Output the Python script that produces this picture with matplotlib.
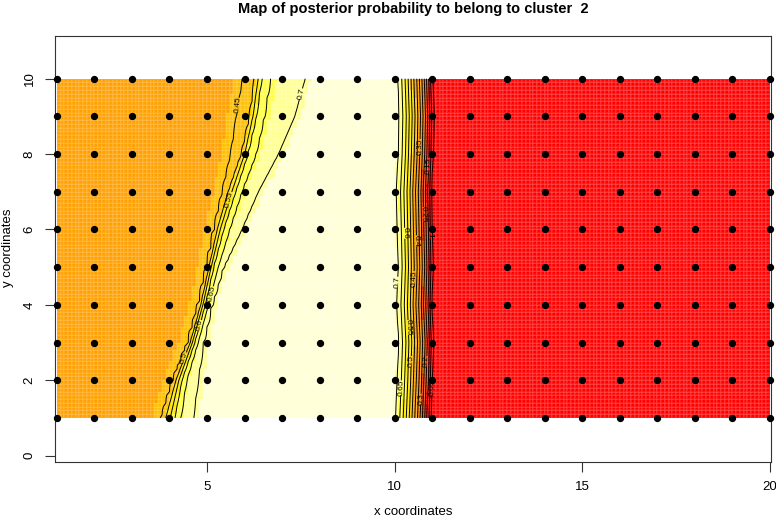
import numpy as np
import matplotlib
matplotlib.use('Agg')
import matplotlib.pyplot as plt
from matplotlib.colors import ListedColormap, BoundaryNorm

plt.rcParams['font.family'] = ['Liberation Sans', 'DejaVu Sans']

# sampled sites
grid_x = np.arange(1, 21)
grid_y = np.arange(1, 11)

# left boundary: x where the posterior crosses each level, rows y = 1..10
left_levels = [0.45, 0.50, 0.55, 0.60, 0.65, 0.70]
x045 = [3.79, 4.10, 4.50, 4.78, 5.00, 5.20, 5.42, 5.64, 5.79, 5.96]
x050 = [3.90, 4.17, 4.55, 4.83, 5.05, 5.27, 5.57, 5.93, 6.15, 6.28]
x055 = [4.02, 4.25, 4.61, 4.89, 5.11, 5.35, 5.66, 6.00, 6.22, 6.36]
x060 = [4.14, 4.33, 4.67, 4.95, 5.17, 5.44, 5.76, 6.08, 6.31, 6.45]
x065 = [4.30, 4.45, 4.76, 5.04, 5.30, 5.60, 5.92, 6.30, 6.52, 6.68]
x070 = [4.63, 4.76, 4.90, 5.12, 5.43, 5.92, 6.36, 6.90, 7.34, 7.62]

# plateau values
left_value = 0.42
middle_value = 0.72

# right boundary profile, plus a small per-row shift (rows y = 1..10)
right_x = [10.00, 10.08, 10.18, 10.27, 10.35, 10.43, 10.50, 10.58,
           10.65, 10.72, 10.78, 10.84, 10.90, 10.95, 11.00, 11.10]
right_v = [0.72, 0.70, 0.65, 0.60, 0.55, 0.50, 0.45, 0.40,
           0.35, 0.30, 0.25, 0.20, 0.15, 0.10, 0.05, 0.00]
right_shift = [-0.04, 0.00, 0.03, -0.01, 0.02, 0.00, -0.02, 0.02, 0.04, 0.01]

contour_levels = np.round(np.arange(0.05, 0.71, 0.05), 2)

bounds = [0, 0.18, 0.28, 0.36, 0.435, 0.5, 0.6, 0.66, 0.71, 1.0]
colors = ['#FF0000', '#FF4000', '#FF8000', '#FFA000', '#FFBF00',
          '#FFE800', '#FFFF40', '#FFFF90', '#FFFFD5']

left_x = np.array([x045, x050, x055, x060, x065, x070]).T


def field(xs, ys):
    z = np.zeros((len(ys), len(xs)))
    for i, y in enumerate(ys):
        cross = [np.interp(y, grid_y, left_x[:, k]) for k in range(len(left_levels))]
        sh = np.interp(y, grid_y, right_shift)
        rx = [v + sh for v in right_x]
        kx = [1.0, cross[0] - 0.5] + cross + [cross[-1] + 0.3] + rx + [20.0]
        kv = [left_value, left_value] + left_levels + [middle_value] + right_v + [0.0]
        z[i] = np.interp(xs, kx, kv)
    return z


xe = np.linspace(1, 20, 191)
ye = np.linspace(1, 10, 91)
xc = (xe[:-1] + xe[1:]) / 2
yc = (ye[:-1] + ye[1:]) / 2

fig = plt.figure(figsize=(7.76, 5.18), dpi=100)
ax = fig.add_axes([0.0709, 0.1081, 0.9227, 0.8229])

cmap = ListedColormap(colors)
norm = BoundaryNorm(bounds, cmap.N)
ax.pcolormesh(xe, ye, field(xc, yc), cmap=cmap, norm=norm, shading='flat',
              edgecolors=(1, 1, 1, 0.1), linewidth=0.25)

cs = ax.contour(xe, ye, field(xe, ye), levels=contour_levels,
                colors='black', linewidths=0.7)
ax.clabel(cs, fmt='%g', fontsize=6, inline=True, inline_spacing=1)

gx, gy = np.meshgrid(grid_x, grid_y)
ax.scatter(gx, gy, s=18, c='black', clip_on=False, zorder=5)

ax.set_xlim(0.95, 20.03)
ax.set_ylim(-0.17, 11.14)
ax.set_xticks([5, 10, 15, 20])
ax.set_yticks([0, 2, 4, 6, 8, 10])
for lab in ax.get_yticklabels():
    lab.set_rotation(90)
    lab.set_va('center')
ax.tick_params(length=7, width=0.8, labelsize=9.5, pad=7, color='#333333')
for s in ax.spines.values():
    s.set_color('#333333')
    s.set_linewidth(0.8)

fig.text(413 / 776, 1 - 512 / 518, 'x coordinates', fontsize=9.5,
         ha='center', va='center')
fig.text(8 / 776, 1 - 248 / 518, 'y coordinates', fontsize=9.5,
         ha='center', va='center', rotation=90)
fig.text(413 / 776, 1 - 9 / 518,
         'Map of posterior probability to belong to cluster  2',
         fontsize=10.5, fontweight='bold', ha='center', va='center')

fig.savefig('out.png', dpi=100)
